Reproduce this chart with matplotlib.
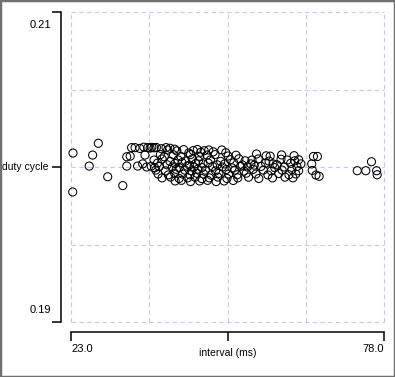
import matplotlib.pyplot as plt
from matplotlib.patches import Rectangle

# interval (ms) vs duty cycle
interval_ms = [
    23.35, 23.3, 27.8, 26.8, 26.2, 29.45, 32.1, 32.8, 32.8, 34.7, 33.4,
    33.65, 34.25, 35.1, 35.8, 36.5, 36.9, 37.2, 37.6, 38.0, 38.9, 39.7, 40.4, 41.2,
    40.0, 41.6, 42.8, 43.7, 44.5, 45.2, 45.8, 46.4, 47.2, 48.0, 49.5, 50.2,
    36.0, 38.7, 39.4, 41.0, 42.3, 44.0, 45.6, 46.9, 48.3, 50.6, 52.0, 55.6, 57.3,
    58.0, 60.0, 62.2, 65.6, 66.3,
    37.6, 39.0, 40.4, 41.8, 43.1, 44.3, 45.4, 47.5, 49.3, 51.0, 52.5, 53.6, 54.8,
    55.9, 57.8, 59.9, 61.0, 62.3, 63.0,
    35.6, 38.2, 39.9, 41.3, 42.5, 43.8, 44.9, 46.2, 47.1, 48.7, 50.0, 51.6, 53.1,
    54.6, 55.2, 57.2, 58.5, 59.2, 61.6, 63.4, 65.3, 75.8,
    36.3, 37.1, 37.7, 38.5, 40.8, 42.0, 43.4, 44.6, 46.0, 47.9, 49.6, 51.3, 52.8,
    54.0, 56.4, 58.8, 60.5, 62.7,
    37.9, 39.6, 41.5, 43.0, 44.2, 45.3, 46.6, 48.4, 50.3, 51.8, 53.4, 55.0, 56.8,
    58.2, 60.1, 61.8, 63.0, 65.4, 73.3, 74.8, 76.7,
    38.3, 40.1, 41.2, 42.6, 43.9, 45.1, 46.3, 47.6, 49.0, 50.7, 52.2, 53.8, 55.5,
    57.6, 59.5, 61.3, 62.5, 66.05, 76.8,
    39.0, 40.5, 42.0, 43.5, 44.8, 46.0, 47.3, 48.8, 50.4, 52.3, 54.2, 56.0, 58.4,
    60.6, 62.0, 66.6,
    41.3, 42.4, 44.0, 45.6, 47.0, 48.5, 49.9, 51.5,
]
duty_cycle = [
    0.2009, 0.19839, 0.20153, 0.20077, 0.20006, 0.19937, 0.1988, 0.20066, 0.20006, 0.20006, 0.2007,
    0.20125, 0.20125, 0.20120, 0.20128, 0.20125, 0.20122, 0.20127, 0.20124, 0.20126, 0.20118, 0.20125, 0.20121, 0.20115,
    0.2011, 0.20104, 0.20112, 0.2009, 0.20106, 0.20113, 0.20095, 0.20105, 0.2011, 0.20098, 0.2011, 0.20092,
    0.20077, 0.2008, 0.20066, 0.20079, 0.20068, 0.2008, 0.20069, 0.20077, 0.2008, 0.20071, 0.20076, 0.20084, 0.20072,
    0.2007, 0.20078, 0.20073, 0.20068, 0.20068,
    0.20045, 0.20052, 0.20036, 0.20046, 0.20038, 0.20052, 0.2004, 0.20046, 0.20036, 0.20047, 0.20053, 0.2004, 0.20045,
    0.20052, 0.20038, 0.2005, 0.20045, 0.2004, 0.20047,
    0.2002, 0.20025, 0.20014, 0.20023, 0.20028, 0.20012, 0.20022, 0.2002, 0.20026, 0.20014, 0.2002, 0.20027, 0.20013,
    0.2002, 0.20012, 0.20025, 0.2002, 0.20014, 0.20024, 0.2002, 0.2002, 0.20034,
    0.2, 0.20005, 0.19995, 0.20003, 0.2, 0.19995, 0.20005, 0.2, 0.19996, 0.20004, 0.2, 0.19994, 0.20005,
    0.2, 0.20004, 0.19996, 0.2, 0.20003,
    0.1998, 0.19975, 0.19985, 0.1998, 0.19974, 0.19986, 0.1998, 0.19975, 0.19984, 0.1998, 0.19974, 0.19985, 0.1998,
    0.19975, 0.1998, 0.19984, 0.19976, 0.19978, 0.19976, 0.19976, 0.19976,
    0.19955, 0.19949, 0.1996, 0.19955, 0.1995, 0.1996, 0.19955, 0.19948, 0.19959, 0.19955, 0.1995, 0.1996, 0.19955,
    0.19949, 0.19958, 0.1995, 0.19955, 0.19948, 0.1995,
    0.1993, 0.19935, 0.19926, 0.1993, 0.19934, 0.19925, 0.1993, 0.19935, 0.19926, 0.1993, 0.19934, 0.19926, 0.1993,
    0.19935, 0.1993, 0.1994,
    0.1991, 0.19914, 0.19906, 0.1991, 0.19914, 0.19906, 0.1991, 0.19913,
]

x_min, x_max = 23.0, 78.0
y_min, y_max = 0.19, 0.21
x_grid = [23.0, 36.75, 50.5, 64.25, 78.0]
y_grid = [0.19, 0.195, 0.20, 0.205, 0.21]

W, H = 395, 377
plt.rcParams['font.family'] = ['Liberation Sans', 'DejaVu Sans']

fig = plt.figure(figsize=(W / 100, H / 100), dpi=100)
fig.patches.append(Rectangle((0, 0), 1, 1, transform=fig.transFigure,
                             fill=False, edgecolor='#707070', linewidth=2.5))

ax = fig.add_axes([71 / W, 55 / H, 313 / W, 310 / H])
ax.set_xlim(x_min, x_max)
ax.set_ylim(y_min, y_max)

# dashed grid incl. the frame
for gx in x_grid:
    ax.axvline(gx, color='#c8c8e4', linestyle=(0, (4, 3)), linewidth=0.8, zorder=0, clip_on=False)
for gy in y_grid:
    ax.axhline(gy, color='#c8c8e4', linestyle=(0, (4, 3)), linewidth=0.8, zorder=0, clip_on=False)

ax.scatter(interval_ms, duty_cycle, s=34, facecolors='none', edgecolors='black',
           linewidths=0.75, zorder=3, clip_on=False)

for side in ['top', 'right']:
    ax.spines[side].set_visible(False)
ax.spines['left'].set_position(('outward', 7.2))
ax.spines['bottom'].set_position(('outward', 7.2))
ax.spines['left'].set_linewidth(1.1)
ax.spines['bottom'].set_linewidth(1.1)

ax.set_xticks([x_min, (x_min + x_max) / 2, x_max])
ax.set_yticks([y_min, (y_min + y_max) / 2, y_max])
ax.set_xticklabels([])
ax.set_yticklabels([])
ax.tick_params(length=6.5, width=1.1, color='black', direction='out')

fs = 7.5
fs_num = 8
ax.annotate('0.21', xy=(0, y_max), xycoords=('axes fraction', 'data'),
            xytext=(-20, -16), textcoords='offset pixels', ha='right', va='baseline', fontsize=fs_num)
ax.annotate('duty cycle', xy=(0, 0.20), xycoords=('axes fraction', 'data'),
            xytext=(-23, -3), textcoords='offset pixels', ha='right', va='baseline', fontsize=fs)
ax.annotate('0.19', xy=(0, y_min), xycoords=('axes fraction', 'data'),
            xytext=(-20, 9), textcoords='offset pixels', ha='right', va='baseline', fontsize=fs_num)

ax.annotate('23.0', xy=(x_min, 0), xycoords=('data', 'axes fraction'),
            xytext=(0, -30), textcoords='offset pixels', ha='left', va='baseline', fontsize=fs_num)
ax.annotate('78.0', xy=(x_max, 0), xycoords=('data', 'axes fraction'),
            xytext=(0, -30), textcoords='offset pixels', ha='right', va='baseline', fontsize=fs_num)
ax.annotate('interval (ms)', xy=(0.5, 0), xycoords='axes fraction',
            xytext=(0, -34), textcoords='offset pixels', ha='center', va='baseline', fontsize=fs)

fig.savefig('out.png', dpi=100)
